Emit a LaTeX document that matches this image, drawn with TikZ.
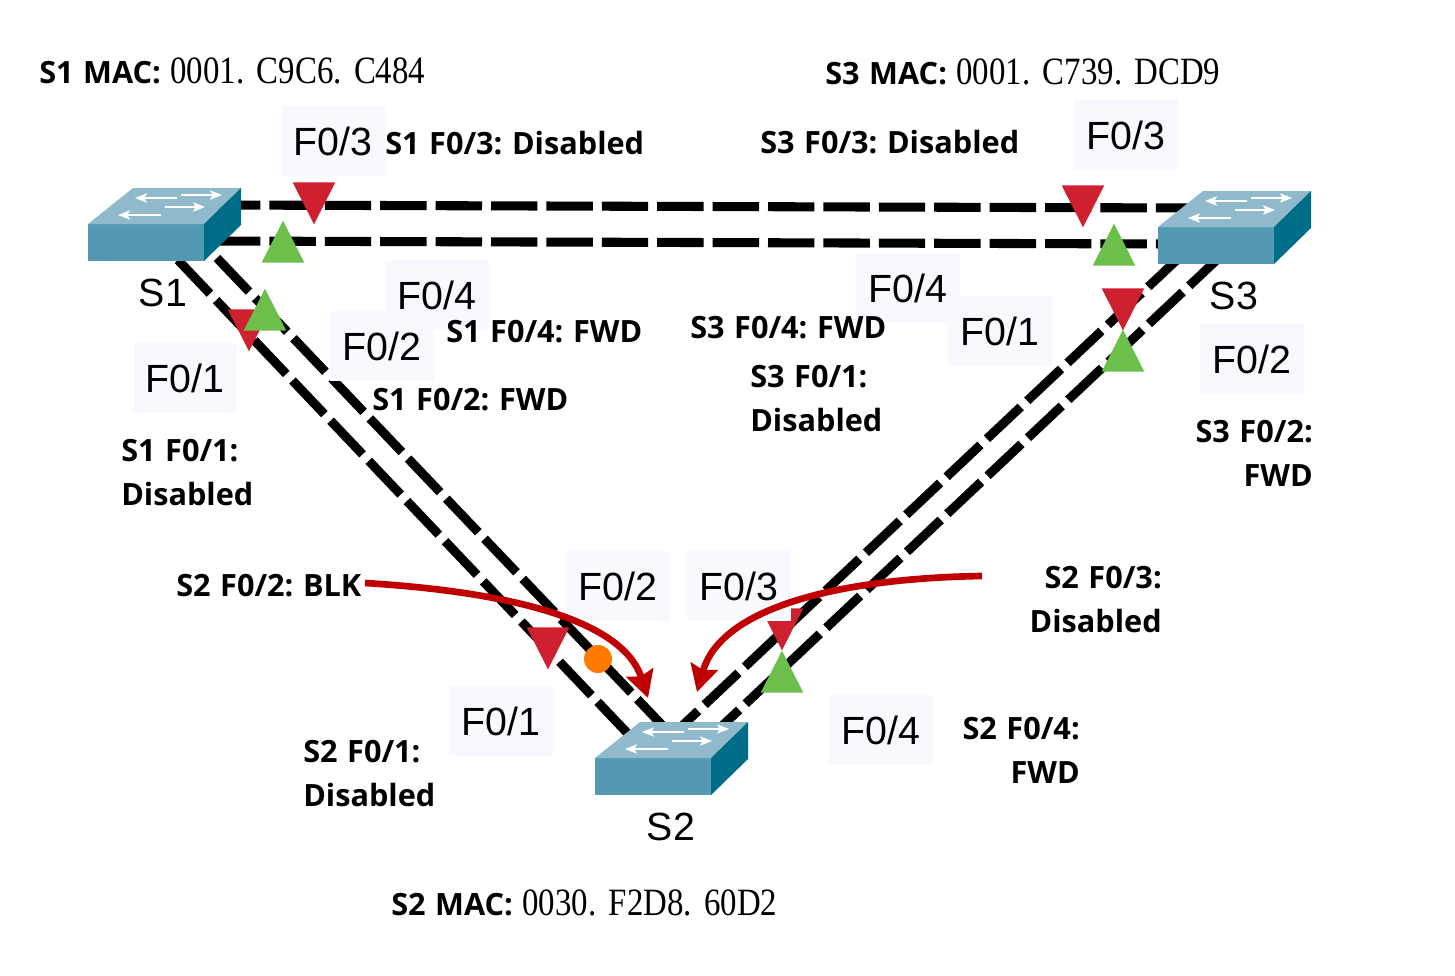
\documentclass[tikz,border=0pt]{standalone}
\usepackage{fontspec}
\setmainfont[WordSpace=1.2]{Open Sans}
\setsansfont{Liberation Sans}
\newfontfamily\macfont[FakeStretch=0.85,WordSpace=1.5]{Liberation Serif}
\usepackage{xcolor}
\usetikzlibrary{shapes.geometric, arrows.meta}
\definecolor{swtop}{RGB}{144,186,203}
\definecolor{swfront}{RGB}{83,153,177}
\definecolor{swside}{RGB}{0,109,136}
\definecolor{portfill}{RGB}{248,249,255}
\definecolor{blkred}{RGB}{206,32,47}
\definecolor{fwdgreen}{RGB}{108,191,75}
\definecolor{rootorange}{RGB}{255,122,0}
\definecolor{notered}{RGB}{192,0,0}
\tikzset{
    swbody/.style={
        rectangle,
        fill=swfront,
        inner sep=0pt,
        minimum width=87pt,
        minimum height=27.75pt
    },
    swname/.style={
        font=\fontsize{29.5}{33}\sffamily
    },
    swarrow/.style={
        draw=white,
        line width=1pt,
        -{Stealth[length=9pt,width=7pt,inset=2pt]}
    },
    portlabel/.style={
        rectangle,
        fill=portfill,
        inner sep=0pt,
        minimum width=78pt,
        minimum height=52.5pt,
        font=\fontsize{29.5}{33}\sffamily
    },
    note/.style={
        font=\fontsize{23}{33}\selectfont\bfseries\frenchspacing,
        inner sep=0pt
    },
    link/.style={
        draw=black,
        line width=6.8pt,
        dash pattern=on 34.8pt off 6.75pt
    },
    blkmark/.style={
        isosceles triangle,
        isosceles triangle stretches,
        shape border rotate=270,
        fill=blkred,
        inner sep=0pt,
        minimum width=32pt,
        minimum height=31.5pt,
        anchor=apex
    },
    fwdmark/.style={
        blkmark,
        shape border rotate=90,
        fill=fwdgreen
    },
    callout/.style={
        draw=notered,
        line width=5pt,
        -{Stealth[length=20pt,width=21pt,inset=3pt]}
    }
}
\newcommand{\macnumber}[1]{{\mdseries\macfont\fontsize{29}{33}\selectfont #1}}
% switch: name, x and y of the front face's top left corner
\newcommand{\switch}[3]{
    \node[swbody, anchor=north west] (#1) at (#2,#3) {};
    \fill[swtop] (#2,#3) -- (#2+45,#3-36) -- (#2+153,#3-36) -- (#2+116,#3) -- cycle;
    \fill[swside] (#2+116,#3) -- (#2+153,#3-36) -- (#2+153,#3+1) -- (#2+116,#3+37) -- cycle;
    \draw[swarrow] (#2+89,#3-26) -- (#2+47,#3-26);
    \draw[swarrow] (#2+93,#3-29) -- (#2+134,#3-29);
    \draw[swarrow] (#2+73,#3-9) -- (#2+30,#3-9);
    \draw[swarrow] (#2+77,#3-17) -- (#2+117,#3-17);
}
\begin{document}
\begin{tikzpicture}[x=0.75pt, y=-0.75pt]
\useasboundingbox (0,0) rectangle (1455,975);

% Ends of the links, hidden under the switches
\coordinate (s1top) at (214,205);
\coordinate (s1low) at (214,241);
\coordinate (s3top) at (1195,208);
\coordinate (s3low) at (1170,244);
\coordinate (s1diaga) at (178,260);
\coordinate (s1diagb) at (217,258);
\coordinate (s2diaga) at (632,738);
\coordinate (s2diagb) at (662,725);
\coordinate (s3diaga) at (1182,255);
\coordinate (s3diagb) at (1223,254);
\coordinate (s2diagc) at (682,726);
\coordinate (s2diagd) at (722,726);

% Links
\draw[link] (s1top) -- (s3top);
\draw[link] (s1low) -- (s3low);
\draw[link] (s1diaga) -- (s2diaga);
\draw[link] (s1diagb) -- (s2diagb);
\draw[link] (s3diaga) -- (s2diagc);
\draw[link] (s3diagb) -- (s2diagd);

% Switches
\switch{s1}{88}{224}
\switch{s2}{595}{758}
\switch{s3}{1158}{227}
\node[swname] (s1name) at (163,293) {S1};
\node[swname] (s2name) at (671,827) {S2};
\node[swname] (s3name) at (1234,296) {S3};

% Port states
\node[blkmark] (s1f3) at (314,225) {};
\node[fwdmark] (s1f4) at (283,220) {};
\node[blkmark] (s1f1) at (249,352) {};
\node[fwdmark] (s1f2) at (265,288) {};
\node[blkmark] (s3f3) at (1083,228) {};
\node[fwdmark] (s3f4) at (1114,223) {};
\node[blkmark] (s3f1) at (1123,331) {};
\node[fwdmark] (s3f2) at (1123,329) {};
\node[blkmark] (s2f1) at (548,670) {};
\node[blkmark] (s2f3) at (782,651) {};
\node[fwdmark] (s2f4) at (782,650) {};
\node[circle, fill=rootorange, inner sep=0pt, minimum size=21pt] (s2f2) at (598,659) {};

% Port labels
\node[portlabel] (l1f3) at (333,141) {F0/3};
\node[portlabel] (l1f4) at (437,295) {F0/4};
\node[portlabel] (l1f2) at (382,346) {F0/2};
\node[portlabel] (l1f1) at (185,378) {F0/1};
\node[portlabel] (l3f3) at (1126,135) {F0/3};
\node[portlabel] (l3f4) at (908,288) {F0/4};
\node[portlabel] (l3f1) at (1000,331) {F0/1};
\node[portlabel] (l3f2) at (1252,359) {F0/2};
\node[portlabel] (l2f2) at (618,586) {F0/2};
\node[portlabel] (l2f3) at (739,586) {F0/3};
\node[portlabel] (l2f1) at (501,721) {F0/1};
\node[portlabel] (l2f4) at (881,730) {F0/4};

% MAC addresses
\node[note, anchor=west] (mac1) at (39,71) {S1 MAC: \macnumber{0001. C9C6. C484}};
\node[note, anchor=west] (mac3) at (825,72) {S3 MAC: \macnumber{0001. C739. DCD9}};
\node[note, anchor=west] (mac2) at (391,903) {S2 MAC: \macnumber{0030. F2D8. 60D2}};

% State notes
\node[note, anchor=west] (n1f3) at (385,143) {S1 F0/3: Disabled};
\node[note, anchor=west] (n3f3) at (760,142) {S3 F0/3: Disabled};
\node[note, anchor=west] (n1f4) at (446,332) {S1 F0/4: FWD};
\node[note, anchor=west] (n3f4) at (690,328) {S3 F0/4: FWD};
\node[note, anchor=west] (n1f2) at (372,400) {S1 F0/2: FWD};
\node[note, anchor=west] (n2f2) at (176,586) {S2 F0/2: BLK};
\node[note, anchor=west, align=left] (n3f1) at (750,399) {S3 F0/1:\\Disabled};
\node[note, anchor=west, align=left] (n1f1) at (121,473) {S1 F0/1:\\Disabled};
\node[note, anchor=west, align=left] (n2f1) at (303,774) {S2 F0/1:\\Disabled};
\node[note, anchor=east, align=right] (n3f2) at (1313,453) {S3 F0/2:\\FWD};
\node[note, anchor=east, align=right] (n2f3) at (1162,600) {S2 F0/3:\\Disabled};
\node[note, anchor=east, align=right] (n2f4) at (1080,750) {S2 F0/4:\\FWD};

% Callouts
\coordinate (blkstart) at (365,583);
\coordinate (blktip) at (648,698);
\coordinate (disstart) at (982,576);
\coordinate (distip) at (697,692);
\draw[callout] (blkstart) .. controls (480,590) and (620,612) .. (blktip);
\draw[callout] (disstart) .. controls (850,578) and (722,604) .. (distip);

\end{tikzpicture}
\end{document}
